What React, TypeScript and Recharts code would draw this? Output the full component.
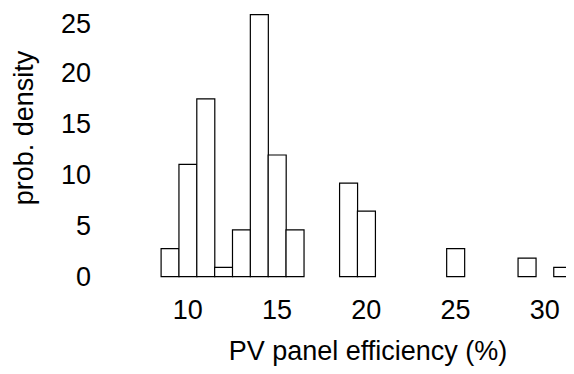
import { Bar, BarChart, XAxis, YAxis } from 'recharts'

// unit-width bins centred on whole percentages
const bins = [9, 10, 11, 12, 13, 14, 15, 16, 17, 18, 19, 20, 21, 22, 23, 24, 25, 26, 27, 28, 29, 30, 31]
const density = [2.75, 11.01, 17.43, 0.92, 4.59, 25.69, 11.93, 4.59, 0, 0, 9.17, 6.42, 0, 0, 0, 0, 2.75, 0, 0, 0, 1.83, 0, 0.92]
const xTicks = [10, 15, 20, 25, 30]
const yTicks = [0, 5, 10, 15, 20, 25]

const data = bins.map((bin, i) => ({ bin, density: density[i] }))

const font = '"Liberation Sans", Arial, sans-serif'

export default function App() {
  return (
    <div style={{ fontFamily: font }}>
      <BarChart
        width={566}
        height={358}
        data={data}
        margin={{ top: 3.5, right: 2.4, left: 0, bottom: 0 }}
        barCategoryGap={0}
        barGap={0}
      >
        <XAxis
          dataKey='bin'
          type='category'
          ticks={xTicks}
          interval={0}
          height={89.3}
          axisLine={false}
          tickLine={false}
          tickSize={0}
          tickMargin={23}
          tick={{ fill: '#000', fontSize: 27, fontFamily: font }}
          label={{
            content: () => (
              <text x={360} y={352} textAnchor='middle' fill='#000' fontSize={27} fontFamily={font}>
                PV panel efficiency (%)
              </text>
            ),
          }}
        />
        <YAxis
          type='number'
          domain={[0, 26]}
          ticks={yTicks}
          width={153.1}
          axisLine={false}
          tickLine={false}
          tickSize={0}
          tickMargin={70}
          tick={{ fill: '#000', fontSize: 27, fontFamily: font }}
          label={{
            content: () => (
              <text
                x={15.5}
                y={120}
                transform='rotate(-90 15.5 120)'
                textAnchor='middle'
                dominantBaseline='central'
                fill='#000'
                fontSize={27}
                fontFamily={font}
              >
                prob. density
              </text>
            ),
          }}
        />
        <Bar dataKey='density' fill='#fff' stroke='#000' strokeWidth={1.2} isAnimationActive={false} />
      </BarChart>
    </div>
  )
}
